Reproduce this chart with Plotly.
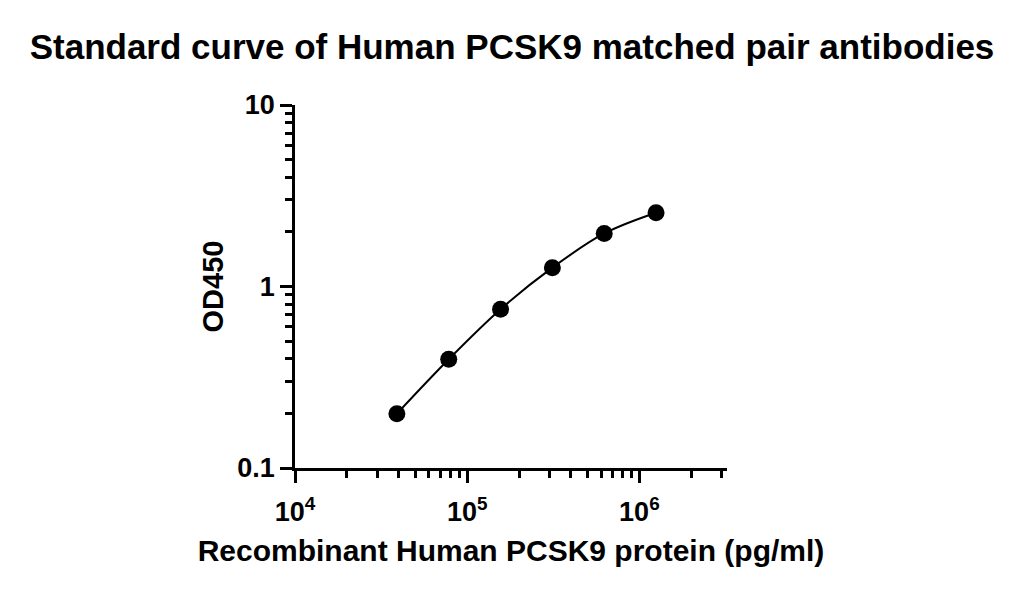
import plotly.graph_objects as go

# Data
conc = [39062.5, 78125, 156250, 312500, 625000, 1250000]
od450 = [0.199, 0.397, 0.749, 1.27, 1.96, 2.55]

x_major = [1e4, 1e5, 1e6]
x_major_text = ["10<sup>4</sup>", "10<sup>5</sup>", "10<sup>6</sup>"]
y_major = [0.1, 1, 10]
y_major_text = ["0.1", "1", "10"]

x_minor = [m * 10**e for e in (4, 5, 6) for m in range(2, 10) if m * 10**e < 3.3e6]
y_minor = [m * 10**e for e in (-1, 0) for m in range(2, 10)]

FONT = "Liberation Sans, Arial, sans-serif"

fig = go.Figure()
fig.add_trace(go.Scatter(
    x=conc, y=od450, mode="lines+markers",
    line=dict(color="black", width=2, shape="spline", smoothing=1.0),
    marker=dict(color="black", size=17),
    showlegend=False,
))

fig.update_layout(
    width=1024, height=594,
    paper_bgcolor="white", plot_bgcolor="white",
    margin=dict(l=295, r=297, t=105, b=126),
    title=dict(text="<b>Standard curve of Human PCSK9 matched pair antibodies</b>",
               x=0.5, xanchor="center", y=0.921, yanchor="middle",
               font=dict(family=FONT, size=35, color="black")),
    font=dict(family=FONT, color="black"),
)

fig.update_xaxes(
    type="log", range=[4, 6.509],
    showgrid=False, zeroline=False,
    showline=True, linecolor="black", linewidth=2.5,
    tickmode="array", tickvals=x_major, ticktext=x_major_text,
    ticks="outside", ticklen=12, tickwidth=2.5, tickcolor="black",
    ticklabelstandoff=6,
    tickfont=dict(family=FONT, size=27, color="black", weight="bold"),
    minor=dict(tickmode="array", tickvals=x_minor, ticks="outside",
               ticklen=7, tickwidth=2.5, tickcolor="black", showgrid=False),
    title=dict(text="<b>Recombinant Human PCSK9 protein (pg/ml)</b>",
               font=dict(family=FONT, size=30, color="black"), standoff=14),
)

fig.update_yaxes(
    type="log", range=[-1, 1],
    showgrid=False, zeroline=False,
    showline=True, linecolor="black", linewidth=2.5,
    tickmode="array", tickvals=y_major, ticktext=y_major_text,
    ticks="outside", ticklen=12, tickwidth=2.5, tickcolor="black",
    tickfont=dict(family=FONT, size=27, color="black", weight="bold"),
    minor=dict(tickmode="array", tickvals=y_minor, ticks="outside",
               ticklen=7, tickwidth=2.5, tickcolor="black", showgrid=False),
    title=dict(text="<b>OD450</b>",
               font=dict(family=FONT, size=29, color="black"), standoff=6),
)

fig.write_html("out.html")
